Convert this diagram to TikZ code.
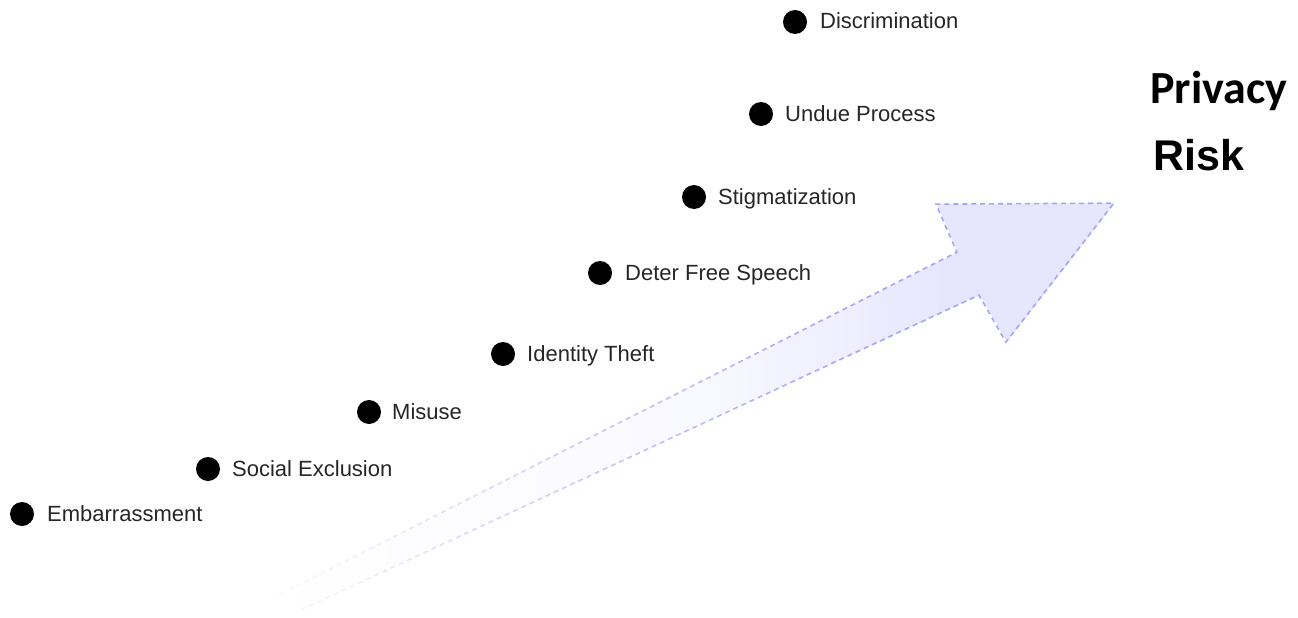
\documentclass[tikz,border=0pt]{standalone}
\usepackage{fontspec}
\setmainfont{Liberation Sans}
\newfontfamily\carlito{Carlito}
\usetikzlibrary{fadings}
\definecolor{arrowfill}{RGB}{230,230,255}
\definecolor{arrowline}{RGB}{165,165,250}
\pgfdeclarehorizontalshading{arrowshade}{100bp}{color(0bp)=(white); color(25bp)=(white); color(40bp)=(arrowfill!12!white); color(52bp)=(arrowfill!30!white); color(60bp)=(arrowfill!70!white); color(65bp)=(arrowfill); color(100bp)=(arrowfill)}
\pgfdeclarehorizontalshading{arrowfadeshade}{100bp}{color(0bp)=(pgftransparent!100); color(25bp)=(pgftransparent!100); color(45bp)=(pgftransparent!40); color(60bp)=(pgftransparent!0); color(100bp)=(pgftransparent!0)}
\pgfdeclarefading{arrowfade}{\pgfuseshading{arrowfadeshade}}
\tikzset{
  dot/.style={circle, fill=black, minimum size=24pt, inner sep=0pt},
  lab/.style={font=\fontsize{22}{24}\selectfont, anchor=base west, inner sep=0pt, text=black!85},
  arrowborder/.style={draw=arrowline, line width=1.6pt, dash pattern=on 5pt off 4pt, path fading=arrowfade},
}
\begin{document}
\begin{tikzpicture}[x=1pt, y=-1pt]
\useasboundingbox (0,0) rectangle (1298,618);
% arrow
\coordinate (T1) at (257,606);
\coordinate (S1) at (958,252);
\coordinate (H1) at (937,204);
\coordinate (tip) at (1115,203);
\coordinate (H2) at (1007,342);
\coordinate (S2) at (980,295);
\coordinate (T2) at (297,612);
\shade[shading=arrowshade] (T1) -- (S1) -- (H1) -- (tip) -- (H2) -- (S2) -- (T2) -- cycle;
\draw[arrowborder] (T1) -- (S1) -- (H1) -- (tip) -- (H2) -- (S2) -- (T2);
% dots and labels
\node[dot] (d1) at (22,514) {};
\node[lab] (l1) at (47,521) {Embarrassment};
\node[dot] (d2) at (208,469) {};
\node[lab] (l2) at (232,476) {Social Exclusion};
\node[dot] (d3) at (369,412) {};
\node[lab] (l3) at (392,419) {Misuse};
\node[dot] (d4) at (503,354) {};
\node[lab] (l4) at (527,361) {Identity Theft};
\node[dot] (d5) at (600,273) {};
\node[lab] (l5) at (625,280) {Deter Free Speech};
\node[dot] (d6) at (694,197) {};
\node[lab] (l6) at (718,204) {Stigmatization};
\node[dot] (d7) at (761,114) {};
\node[lab] (l7) at (785,121) {Undue Process};
\node[dot] (d8) at (795,22) {};
\node[lab] (l8) at (820,29) {Discrimination};
% title
\node[font=\carlito\bfseries\fontsize{46}{50}\selectfont, anchor=base west, inner sep=0pt] (privacy) at (1150,103) {Privacy};
\node[font=\bfseries\fontsize{43}{48}\selectfont, anchor=base west, inner sep=0pt] (risk) at (1153,170) {Risk};
\end{tikzpicture}
\end{document}
